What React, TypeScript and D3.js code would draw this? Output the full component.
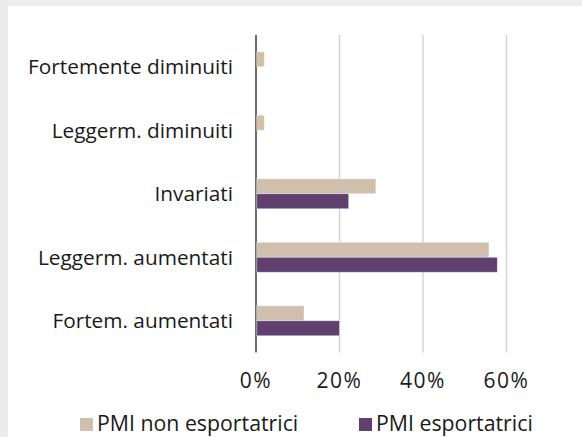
import React from "react";
import * as d3 from "d3";

const categories = [
  "Fortemente diminuiti",
  "Leggerm. diminuiti",
  "Invariati",
  "Leggerm. aumentati",
  "Fortem. aumentati",
];
const seriesNames = ["PMI non esportatrici", "PMI esportatrici"];
const nonExport = [2, 2, 28.7, 55.8, 11.5];
const exportSme = [0, 0, 22.2, 57.8, 20];
const ticks = [0, 20, 40, 60];

const colors = ["#cfbfac", "#60406f"];

export default function App() {
  const W = 582;
  const H = 437;
  const x = d3.scaleLinear().domain([0, 60]).range([256, 506.5]);
  const y = d3.scaleBand().domain(categories).range([35, 352.5]);
  const barH = 15;
  const font = "'Open Sans', 'Noto Sans', sans-serif";
  const series = [nonExport, exportSme];

  return (
    <svg
      width={W}
      height={H}
      style={{ position: "absolute", left: 0, top: 0, display: "block" }}
    >
      <rect x={0} y={0} width={W} height={H} fill="#ececec" />
      <rect x={8} y={6} width={W - 8} height={H - 6} fill="#ffffff" />
      {ticks.map((t) => (
        <line
          key={t}
          x1={x(t)}
          x2={x(t)}
          y1={35}
          y2={352.5}
          stroke={t === 0 ? "#3a3a3a" : "#d4d4d4"}
          strokeWidth={1.5}
        />
      ))}
      {categories.map((c, i) => {
        const cy = (y(c) as number) + y.bandwidth() / 2;
        return (
          <g key={c}>
            {series.map((s, k) => (
              <rect
                key={k}
                x={x(0) + 0.75}
                y={cy - barH + k * barH}
                width={Math.max(0, x(s[i]) - x(0) - 0.75)}
                height={barH}
                fill={colors[k]}
                stroke={s[i] > 0 ? "#ffffff" : "none"}
                strokeOpacity={0.5}
                strokeWidth={0.8}
              />
            ))}
            <text
              x={233}
              y={cy}
              dy="0.35em"
              textAnchor="end"
              fontFamily={font}
              fontSize={20.8}
              fill="#1a1a1a"
            >
              {c}
            </text>
          </g>
        );
      })}
      {ticks.map((t) => (
        <text
          key={"l" + t}
          x={x(t)}
          y={381}
          dy="0.35em"
          textAnchor="middle"
          fontFamily={font}
          fontSize={21}
          letterSpacing={1.5}
          fill="#1a1a1a"
        >
          {t + "%"}
        </text>
      ))}
      {seriesNames.map((n, k) => {
        const lx = k === 0 ? 80 : 359;
        return (
          <g key={n}>
            <rect x={lx} y={418} width={13} height={13} fill={colors[k]} />
            <text
              x={lx + 17}
              y={423.5}
              dy="0.35em"
              fontFamily={font}
              fontSize={21.3}
              fill="#1a1a1a"
            >
              {n}
            </text>
          </g>
        );
      })}
    </svg>
  );
}
